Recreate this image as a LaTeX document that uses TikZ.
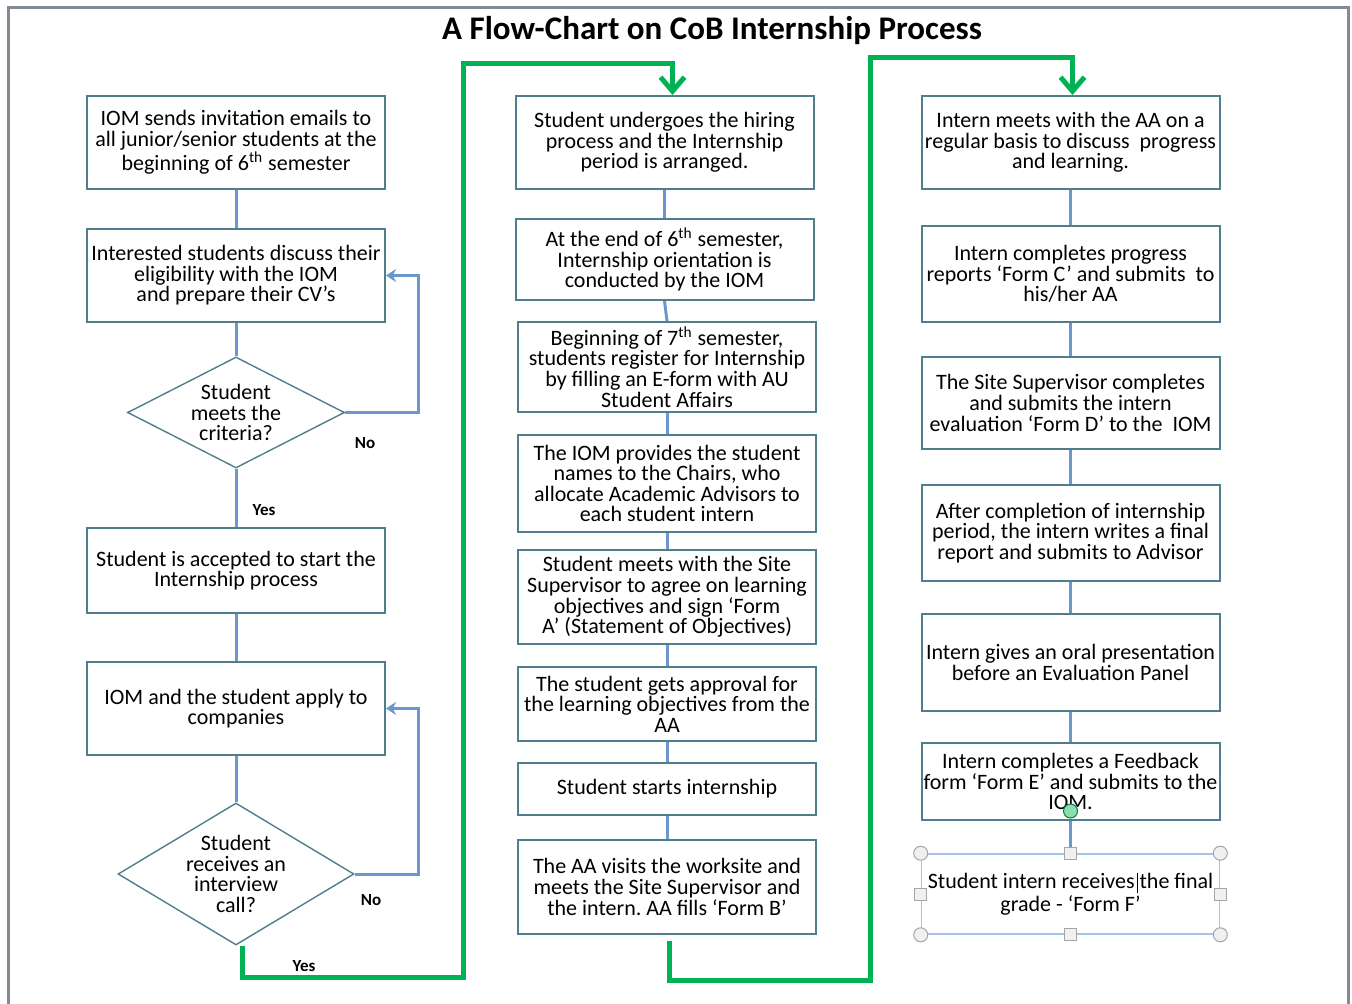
\documentclass[tikz,border=0pt]{standalone}
\usepackage{fontspec}
\setmainfont{Carlito}
\frenchspacing
\usetikzlibrary{arrows.meta,shapes.geometric}

\definecolor{boxline}{RGB}{80,126,140}
\definecolor{linkblue}{RGB}{104,152,206}
\definecolor{flowgreen}{RGB}{0,178,84}
\definecolor{framegray}{RGB}{132,138,148}
\definecolor{selblue}{RGB}{160,196,236}

\tikzset{
  box/.style={draw=boxline, line width=1pt, fill=white, inner sep=0pt, align=center,
    minimum width=149pt, font=\fontsize{11}{10.3}\selectfont},
  decision/.style={diamond, draw=boxline, line width=0.7pt, fill=white, inner sep=0pt,
    align=center, font=\fontsize{11}{10.3}\selectfont},
  link/.style={draw=linkblue, line width=1.5pt},
  loopback/.style={link, -{Stealth[length=5pt,width=6.5pt]}},
  flow/.style={draw=flowgreen, line width=2.5pt, -{Straight Barb[length=7pt,width=12pt]}},
  answer/.style={font=\fontsize{8.5}{9}\selectfont\bfseries},
  cornerhandle/.style={circle, draw=gray!70, fill=gray!12, line width=0.5pt, inner sep=0pt, minimum size=7pt},
  sidehandle/.style={rectangle, draw=gray!70, fill=gray!12, line width=0.5pt, inner sep=0pt, minimum size=6pt}
}

\begin{document}
\begin{tikzpicture}[x=0.5pt,y=-0.5pt]
  \useasboundingbox (0,0) rectangle (1352,1004);

  % Outer frame
  \draw[framegray, line width=1.5pt] (8,1004) -- (8,8) -- (1348,8) -- (1348,1004);

  % Title
  \node[font=\fontsize{16.5}{18}\selectfont\bfseries] (title) at (712,31) {A Flow-Chart on CoB Internship Process};

  % Left column
  \node[box, minimum height=46.5pt] (l1) at (236,142.5) {IOM sends invitation emails to\\all junior/senior students at the\\beginning of 6\textsuperscript{th} semester};
  \node[box, minimum height=46.5pt] (l2) at (236,275.5) {Interested students discuss their\\eligibility with the IOM\\and prepare their CV’s};
  \node[decision, shape aspect=1.95, minimum width=108.5pt, minimum height=55.5pt] (d1) at (236,412.5) {Student\\meets the\\criteria?};
  \node[box, minimum height=42.5pt] (l3) at (236,570.5) {Student is accepted to start the\\Internship process};
  \node[box, minimum height=46.5pt] (l4) at (236,708.5) {IOM and the student apply to\\companies};
  \node[decision, shape aspect=1.66, minimum width=118pt, minimum height=71pt] (d2) at (236,874) {Student\\receives an\\interview\\call?};

  \node[answer] (no1) at (365,443) {No};
  \node[answer] (yes1) at (264,510) {Yes};
  \node[answer] (no2) at (371,900) {No};
  \node[answer] (yes2) at (304,966) {Yes};

  % Middle column
  \node[box, minimum height=46.5pt] (m1) at (664.5,142.5) {Student undergoes the hiring\\process and the Internship\\period is arranged.};
  \node[box, minimum height=40.5pt] (m2) at (664.5,259.5) {At the end of 6\textsuperscript{th} semester,\\Internship orientation is\\conducted by the IOM};
  \node[box, minimum height=45pt] (m3) at (667,367) {Beginning of 7\textsuperscript{th} semester,\\students register for Internship\\by filling an E-form with AU\\Student Affairs};
  \node[box, minimum height=48.5pt] (m4) at (667,483.5) {The IOM provides the student\\names to the Chairs, who\\allocate Academic Advisors to\\each student intern};
  \node[box, minimum height=47pt] (m5) at (667,597) {Student meets with the Site\\Supervisor to agree on learning\\objectives and sign ‘Form\\A’ (Statement of Objectives)};
  \node[box, minimum height=37pt] (m6) at (667,704) {The student gets approval for\\the learning objectives from the\\AA};
  \node[box, minimum height=26pt] (m7) at (667,789) {Student starts internship};
  \node[box, minimum height=47pt] (m8) at (667,887) {The AA visits the worksite and\\meets the Site Supervisor and\\the intern. AA fills ‘Form B’};

  % Right column
  \node[box, minimum height=46.5pt] (r1) at (1070.5,142.5) {Intern meets with the AA on a\\regular basis to discuss\ \ progress\\and learning.};
  \node[box, minimum height=48pt] (r2) at (1070.5,274) {Intern completes progress\\reports ‘Form C’ and submits\ \ to\\his/her AA};
  \node[box, minimum height=46pt] (r3) at (1070.5,403) {The Site Supervisor completes\\and submits the intern\\evaluation ‘Form D’ to the\ \ IOM};
  \node[box, minimum height=48pt] (r4) at (1070.5,533) {After completion of internship\\period, the intern writes a final\\report and submits to Advisor};
  \node[box, minimum height=48.5pt] (r5) at (1070.5,662.5) {Intern gives an oral presentation\\before an Evaluation Panel};
  \node[box, minimum height=38.5pt] (r6) at (1070.5,781.5) {Intern completes a Feedback\\form ‘Form E’ and submits to the\\IOM.};
  \node[box, draw=selblue, line width=0.8pt, minimum height=40pt] (r7) at (1070.5,894) {Student intern receives\kern1pt\rule[-2.5pt]{0.5pt}{10pt}\kern1pt the final\\grade - ‘Form F’};

  % Vertical links
  \draw[link] (l1) -- (l2);
  \draw[link] (l2) -- (d1);
  \draw[link] (d1) -- (l3);
  \draw[link] (l3) -- (l4);
  \draw[link] (l4) -- (d2);
  \foreach \a/\b in {m1/m2,m2/m3,m3/m4,m4/m5,m5/m6,m6/m7,m7/m8,r1/r2,r2/r3,r3/r4,r4/r5,r5/r6,r6/r7}
    \draw[link] (\a.south) -- (\b.north);

  % "No" loops
  \coordinate (na) at (418,412.5);
  \coordinate (nb) at (418,874);
  \draw[loopback] (d1.east) -- (na) |- (l2.east);
  \draw[loopback] (d2.east) -- (nb) |- (l4.east);

  % Green flow between columns
  \coordinate (g1) at (463,977);
  \coordinate (g2) at (463,64);
  \coordinate (g3) at (870,980);
  \coordinate (g4) at (870,58);
  \draw[flow] ([xshift=3pt]d2.south) |- (g1) -- (g2) -| ([xshift=4pt]m1.north);
  \draw[flow] ([xshift=1pt,yshift=-3pt]m8.south) |- (g3) -- (g4) -| ([xshift=1pt]r1.north);

  % Selection handles
  \foreach \c in {north west,north east,south west,south east}
    \node[cornerhandle] at (r7.\c) {};
  \foreach \c in {north,south,west,east}
    \node[sidehandle] at (r7.\c) {};
  \node[circle, draw=flowgreen!70!black, fill=flowgreen!45, line width=0.5pt, inner sep=0pt, minimum size=7pt] (gluept) at ([yshift=5pt]r6.south) {};
\end{tikzpicture}
\end{document}
